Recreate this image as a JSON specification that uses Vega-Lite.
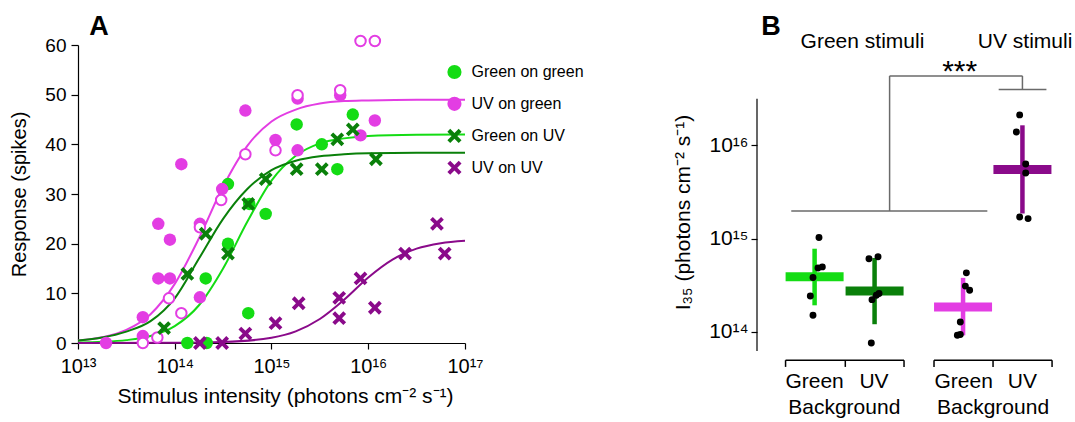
{
  "$schema": "https://vega.github.io/schema/vega-lite/v6.json",
  "background": "white",
  "padding": {"left": 9, "top": 12, "right": 0, "bottom": 0},
  "bounds": "flush",
  "spacing": 292,
  "config": {
    "font": "Liberation Sans",
    "view": {"stroke": null},
    "axis": {"domainColor": "#000", "tickColor": "#000", "labelColor": "#000", "titleColor": "#000", "titleFontWeight": "normal", "grid": false, "labelFont": "Liberation Sans", "titleFont": "Liberation Sans", "tickSize": 6, "domainWidth": 1.2, "tickWidth": 1.2},
    "text": {"font": "Liberation Sans"}
  },
  "datasets": {
    "curves": [
      {"series": "UV on green", "I": 1e13, "R": 0.49}, {"series": "UV on green", "I": 1.78e13, "R": 1.15}, {"series": "UV on green", "I": 3.16e13, "R": 2.63}, {"series": "UV on green", "I": 5.62e13, "R": 5.8}, {"series": "UV on green", "I": 1e14, "R": 11.9}, {"series": "UV on green", "I": 1.78e14, "R": 21.1}, {"series": "UV on green", "I": 3.16e14, "R": 31.5}, {"series": "UV on green", "I": 5.62e14, "R": 39.7}, {"series": "UV on green", "I": 1e15, "R": 44.6}, {"series": "UV on green", "I": 1.78e15, "R": 47.0}, {"series": "UV on green", "I": 3.16e15, "R": 48.2}, {"series": "UV on green", "I": 5.62e15, "R": 48.7}, {"series": "UV on green", "I": 1e16, "R": 48.85}, {"series": "UV on green", "I": 3.16e16, "R": 49.0}, {"series": "UV on green", "I": 1e17, "R": 49.0},
      {"series": "Green on green", "I": 1e13, "R": 0.09}, {"series": "Green on green", "I": 1.78e13, "R": 0.23}, {"series": "Green on green", "I": 3.16e13, "R": 0.58}, {"series": "Green on green", "I": 5.62e13, "R": 1.42}, {"series": "Green on green", "I": 1e14, "R": 3.4}, {"series": "Green on green", "I": 1.78e14, "R": 7.6}, {"series": "Green on green", "I": 3.16e14, "R": 15.0}, {"series": "Green on green", "I": 5.62e14, "R": 24.4}, {"series": "Green on green", "I": 1e15, "R": 32.7}, {"series": "Green on green", "I": 1.78e15, "R": 37.7}, {"series": "Green on green", "I": 3.16e15, "R": 40.2}, {"series": "Green on green", "I": 5.62e15, "R": 41.2}, {"series": "Green on green", "I": 1e16, "R": 41.7}, {"series": "Green on green", "I": 3.16e16, "R": 41.95}, {"series": "Green on green", "I": 1e17, "R": 42.0},
      {"series": "Green on UV", "I": 1e13, "R": 0.5}, {"series": "Green on UV", "I": 1.78e13, "R": 1.1}, {"series": "Green on UV", "I": 3.16e13, "R": 2.3}, {"series": "Green on UV", "I": 5.62e13, "R": 4.4}, {"series": "Green on UV", "I": 1e14, "R": 9.0}, {"series": "Green on UV", "I": 1.78e14, "R": 17.0}, {"series": "Green on UV", "I": 3.16e14, "R": 25.0}, {"series": "Green on UV", "I": 5.62e14, "R": 31.0}, {"series": "Green on UV", "I": 1e15, "R": 34.8}, {"series": "Green on UV", "I": 1.78e15, "R": 36.7}, {"series": "Green on UV", "I": 3.16e15, "R": 37.6}, {"series": "Green on UV", "I": 5.62e15, "R": 38.0}, {"series": "Green on UV", "I": 1e16, "R": 38.2}, {"series": "Green on UV", "I": 3.16e16, "R": 38.3}, {"series": "Green on UV", "I": 1e17, "R": 38.3},
      {"series": "UV on UV", "I": 1e13, "R": 0}, {"series": "UV on UV", "I": 1e14, "R": 0.04}, {"series": "UV on UV", "I": 3.16e14, "R": 0.2}, {"series": "UV on UV", "I": 1e15, "R": 1.06}, {"series": "UV on UV", "I": 1.78e15, "R": 2.35}, {"series": "UV on UV", "I": 3.16e15, "R": 4.83}, {"series": "UV on UV", "I": 5.62e15, "R": 8.7}, {"series": "UV on UV", "I": 1e16, "R": 13.2}, {"series": "UV on UV", "I": 1.78e16, "R": 16.8}, {"series": "UV on UV", "I": 3.16e16, "R": 19.0}, {"series": "UV on UV", "I": 5.62e16, "R": 20.1}, {"series": "UV on UV", "I": 1e17, "R": 20.6}
    ],
    "circles": [
      {"series": "Green on green", "I": 1.35e14, "R": 0}, {"series": "Green on green", "I": 2.14e14, "R": 0}, {"series": "Green on green", "I": 2.09e14, "R": 13}, {"series": "Green on green", "I": 3.55e14, "R": 20}, {"series": "Green on green", "I": 3.55e14, "R": 32}, {"series": "Green on green", "I": 5.89e14, "R": 28}, {"series": "Green on green", "I": 5.75e14, "R": 6}, {"series": "Green on green", "I": 8.71e14, "R": 26}, {"series": "Green on green", "I": 1.82e15, "R": 44}, {"series": "Green on green", "I": 3.31e15, "R": 40}, {"series": "Green on green", "I": 4.79e15, "R": 35}, {"series": "Green on green", "I": 6.92e15, "R": 46},
      {"series": "UV on green", "I": 1.95e13, "R": 0}, {"series": "UV on green", "I": 4.68e13, "R": 5.2}, {"series": "UV on green", "I": 4.68e13, "R": 1.4}, {"series": "UV on green", "I": 6.76e13, "R": 24}, {"series": "UV on green", "I": 8.91e13, "R": 20.8}, {"series": "UV on green", "I": 6.76e13, "R": 13}, {"series": "UV on green", "I": 8.91e13, "R": 13}, {"series": "UV on green", "I": 1.82e14, "R": 9.2}, {"series": "UV on green", "I": 1.82e14, "R": 24}, {"series": "UV on green", "I": 1.17e14, "R": 36}, {"series": "UV on green", "I": 3.09e14, "R": 31}, {"series": "UV on green", "I": 5.37e14, "R": 46.8}, {"series": "UV on green", "I": 1.1e15, "R": 40.9}, {"series": "UV on green", "I": 1.86e15, "R": 38.8}, {"series": "UV on green", "I": 1.86e15, "R": 49.2}, {"series": "UV on green", "I": 5.13e15, "R": 49.9}, {"series": "UV on green", "I": 8.32e15, "R": 41.8}, {"series": "UV on green", "I": 1.17e16, "R": 44.8}
    ],
    "open": [
      {"I": 4.68e13, "R": 0}, {"I": 6.61e13, "R": 1.1}, {"I": 8.71e13, "R": 9}, {"I": 1.17e14, "R": 6}, {"I": 1.82e14, "R": 23.3}, {"I": 3.02e14, "R": 28.8}, {"I": 5.37e14, "R": 38}, {"I": 1.1e15, "R": 38.8}, {"I": 1.86e15, "R": 49.9}, {"I": 5.13e15, "R": 50.9}, {"I": 8.32e15, "R": 60.8}, {"I": 1.17e16, "R": 60.8}
    ],
    "crosses": [
      {"series": "Green on UV", "I": 7.76e13, "R": 3}, {"series": "Green on UV", "I": 1.35e14, "R": 13.9}, {"series": "Green on UV", "I": 2.09e14, "R": 22}, {"series": "Green on UV", "I": 3.55e14, "R": 18}, {"series": "Green on UV", "I": 5.75e14, "R": 28}, {"series": "Green on UV", "I": 8.71e14, "R": 33}, {"series": "Green on UV", "I": 1.82e15, "R": 35}, {"series": "Green on UV", "I": 3.31e15, "R": 35}, {"series": "Green on UV", "I": 4.79e15, "R": 41}, {"series": "Green on UV", "I": 6.92e15, "R": 43}, {"series": "Green on UV", "I": 1.2e16, "R": 37},
      {"series": "UV on UV", "I": 1.82e14, "R": 0}, {"series": "UV on UV", "I": 3.09e14, "R": 0}, {"series": "UV on UV", "I": 5.37e14, "R": 1.9}, {"series": "UV on UV", "I": 1.1e15, "R": 4}, {"series": "UV on UV", "I": 1.91e15, "R": 8}, {"series": "UV on UV", "I": 5.01e15, "R": 9.1}, {"series": "UV on UV", "I": 5.01e15, "R": 5}, {"series": "UV on UV", "I": 8.32e15, "R": 13}, {"series": "UV on UV", "I": 1.17e16, "R": 7.1}, {"series": "UV on UV", "I": 2.4e16, "R": 18}, {"series": "UV on UV", "I": 5.13e16, "R": 24}, {"series": "UV on UV", "I": 6.17e16, "R": 18}
    ],
    "legendRows": [
      {"series": "Green on green", "I": 7.78e16, "R": 54.56, "lx": 1.167e17},
      {"series": "UV on green", "I": 7.78e16, "R": 48.15, "lx": 1.167e17},
      {"series": "Green on UV", "I": 7.78e16, "R": 41.69, "lx": 1.167e17},
      {"series": "UV on UV", "I": 7.78e16, "R": 35.28, "lx": 1.167e17}
    ],
    "panelA": [{"t": "A", "I": 1.31e13, "R": 62.1}],
    "summary": [
      {"series": "Green on green", "pos": 1.0, "mean": 3.9e14, "lo": 1.93e14, "hi": 7.8e14},
      {"series": "Green on UV", "pos": 2.01, "mean": 2.75e14, "lo": 1.21e14, "hi": 6.2e14},
      {"series": "UV on green", "pos": 3.5, "mean": 1.85e14, "lo": 9.2e13, "hi": 3.8e14},
      {"series": "UV on UV", "pos": 4.5, "mean": 5.5e15, "lo": 1.86e15, "hi": 1.64e16}
    ],
    "cells": [
      {"pos": 1.074, "v": 1.03e15}, {"pos": 1.057, "v": 4.85e14}, {"pos": 1.13, "v": 4.98e14}, {"pos": 0.973, "v": 3.83e14}, {"pos": 0.928, "v": 2.43e14}, {"pos": 0.973, "v": 1.51e14},
      {"pos": 1.916, "v": 6.1e14}, {"pos": 2.068, "v": 6.4e14}, {"pos": 2.085, "v": 2.58e14}, {"pos": 2.04, "v": 2.47e14}, {"pos": 1.967, "v": 2.22e14}, {"pos": 1.955, "v": 7.6e13},
      {"pos": 3.556, "v": 4.3e14}, {"pos": 3.539, "v": 3.1e14}, {"pos": 3.611, "v": 2.8e14}, {"pos": 3.454, "v": 1.28e14}, {"pos": 3.404, "v": 9.2e13}, {"pos": 3.454, "v": 9.4e13},
      {"pos": 4.453, "v": 2.12e16}, {"pos": 4.398, "v": 1.39e16}, {"pos": 4.555, "v": 6.3e15}, {"pos": 4.555, "v": 5.06e15}, {"pos": 4.453, "v": 1.71e15}, {"pos": 4.595, "v": 1.64e15}
    ],
    "sig": [
      {"x1": 0.607, "x2": 3.909, "y1": 1.98e15, "y2": 1.98e15},
      {"x1": 2.263, "x2": 2.263, "y1": 1.98e15, "y2": 5.55e16},
      {"x1": 2.263, "x2": 4.5, "y1": 5.55e16, "y2": 5.55e16},
      {"x1": 4.5, "x2": 4.5, "y1": 5.55e16, "y2": 3.96e16},
      {"x1": 4.1, "x2": 4.904, "y1": 3.96e16, "y2": 3.96e16}
    ],
    "brackets": [
      {"x1": 0.511, "x2": 2.506, "y1": 4.98e13, "y2": 4.98e13},
      {"x1": 0.511, "x2": 0.511, "y1": 4.98e13, "y2": 4.22e13},
      {"x1": 1.517, "x2": 1.517, "y1": 4.98e13, "y2": 4.22e13},
      {"x1": 2.506, "x2": 2.506, "y1": 4.98e13, "y2": 4.22e13},
      {"x1": 3.011, "x2": 4.999, "y1": 4.98e13, "y2": 4.98e13},
      {"x1": 3.011, "x2": 3.011, "y1": 4.98e13, "y2": 4.22e13},
      {"x1": 4.005, "x2": 4.005, "y1": 4.98e13, "y2": 4.22e13},
      {"x1": 4.999, "x2": 4.999, "y1": 4.98e13, "y2": 4.22e13}
    ],
    "yline": [{"x1": 0.03, "y1": 6.25e13, "y2": 3.16e16}],
    "labels": [
      {"t": "Green", "x": 1.0, "y": 2.89e13}, {"t": "UV", "x": 2.0, "y": 2.89e13}, {"t": "Background", "x": 1.5, "y": 1.52e13},
      {"t": "Green", "x": 3.51, "y": 2.89e13}, {"t": "UV", "x": 4.5, "y": 2.89e13}, {"t": "Background", "x": 4.005, "y": 1.52e13},
      {"t": "Green stimuli", "x": 1.806, "y": 1.27e17}, {"t": "UV stimuli", "x": 4.544, "y": 1.27e17}
    ],
    "stars": [{"t": "***", "x": 3.443, "y": 7.05e16}],
    "panelB": [{"t": "B", "x": 0.102, "y": 1.513e17}]
  },
  "hconcat": [
    {
      "width": 387,
      "height": 298,
      "layer": [
        {
          "data": {"name": "curves"},
          "mark": {"type": "line", "strokeWidth": 2, "interpolate": "monotone"},
          "encoding": {
            "x": {"field": "I", "type": "quantitative", "scale": {"type": "log", "domain": [1e13, 1e17], "nice": false},
              "axis": {"values": [1e13, 1e14, 1e15, 1e16, 1e17], "labelExpr": "datum.value < 5e13 ? '10¹³' : datum.value < 5e14 ? '10¹⁴' : datum.value < 5e15 ? '10¹⁵' : datum.value < 5e16 ? '10¹⁶' : '10¹⁷'", "title": "Stimulus intensity (photons cm⁻² s⁻¹)", "labelFontSize": 20, "titleFontSize": 21, "labelPadding": 7, "titlePadding": 9, "labelFlush": false, "labelOverlap": false, "titleX": 207}},
            "y": {"field": "R", "type": "quantitative", "scale": {"domain": [0, 60], "nice": false},
              "axis": {"values": [0, 10, 20, 30, 40, 50, 60], "title": "Response (spikes)", "labelFontSize": 19, "titleFontSize": 20, "labelPadding": 5, "tickSize": 7, "titlePadding": 15}},
            "stroke": {"field": "series", "type": "nominal", "scale": {"domain": ["Green on green", "UV on green", "Green on UV", "UV on UV"], "range": ["#14dc14", "#e33de3", "#0a800a", "#8a0a8a"]}, "legend": null}
          }
        },
        {
          "data": {"name": "circles"},
          "mark": {"type": "point", "filled": true, "opacity": 1, "size": 155},
          "encoding": {
            "x": {"field": "I", "type": "quantitative"},
            "y": {"field": "R", "type": "quantitative"},
            "color": {"field": "series", "type": "nominal", "scale": {"domain": ["Green on green", "UV on green", "Green on UV", "UV on UV"], "range": ["#14dc14", "#e33de3", "#0a800a", "#8a0a8a"]}, "legend": null},
            "shape": {"field": "series", "type": "nominal", "scale": {"domain": ["Green on green", "UV on green", "Green on UV", "UV on UV"], "range": ["circle", "circle", "M-1,-0.6L-0.6,-1L0,-0.4L0.6,-1L1,-0.6L0.4,0L1,0.6L0.6,1L0,0.4L-0.6,1L-1,0.6L-0.4,0Z", "M-1,-0.6L-0.6,-1L0,-0.4L0.6,-1L1,-0.6L0.4,0L1,0.6L0.6,1L0,0.4L-0.6,1L-1,0.6L-0.4,0Z"]}, "legend": null}
          }
        },
        {
          "data": {"name": "open"},
          "mark": {"type": "point", "shape": "circle", "filled": false, "fill": "white", "fillOpacity": 1, "stroke": "#e33de3", "strokeWidth": 2, "opacity": 1, "size": 110},
          "encoding": {
            "x": {"field": "I", "type": "quantitative"},
            "y": {"field": "R", "type": "quantitative"}
          }
        },
        {
          "data": {"name": "crosses"},
          "mark": {"type": "point", "filled": true, "opacity": 1, "size": 190},
          "encoding": {
            "x": {"field": "I", "type": "quantitative"},
            "y": {"field": "R", "type": "quantitative"},
            "color": {"field": "series", "type": "nominal", "legend": null},
            "shape": {"field": "series", "type": "nominal", "legend": null}
          }
        },
        {
          "data": {"name": "legendRows"},
          "mark": {"type": "point", "filled": true, "opacity": 1, "size": 200},
          "encoding": {
            "x": {"field": "I", "type": "quantitative"},
            "y": {"field": "R", "type": "quantitative"},
            "color": {"field": "series", "type": "nominal", "legend": null},
            "shape": {"field": "series", "type": "nominal", "legend": null}
          }
        },
        {
          "data": {"name": "legendRows"},
          "mark": {"type": "text", "fontSize": 16, "align": "left", "baseline": "middle", "color": "#000"},
          "encoding": {
            "x": {"field": "lx", "type": "quantitative"},
            "y": {"field": "R", "type": "quantitative"},
            "text": {"field": "series"}
          }
        },
        {
          "data": {"name": "panelA"},
          "mark": {"type": "text", "fontSize": 27, "fontWeight": "bold", "align": "left", "baseline": "alphabetic", "color": "#000"},
          "encoding": {"x": {"field": "I", "type": "quantitative"}, "y": {"field": "R", "type": "quantitative"}, "text": {"field": "t"}}
        }
      ]
    },
    {
      "width": 307,
      "height": 306,
      "layer": [
        {
          "data": {"name": "sig"},
          "mark": {"type": "rule", "color": "#6a6a6a", "strokeWidth": 1.5},
          "encoding": {
            "x": {"field": "x1", "type": "quantitative", "scale": {"domain": [0.03, 5.2], "nice": false, "zero": false}, "axis": null},
            "x2": {"field": "x2"},
            "y": {"field": "y1", "type": "quantitative", "scale": {"type": "log", "domain": [6.25e13, 1.19e17], "nice": false},
              "axis": {"values": [1e14, 1e15, 1e16], "labelExpr": "datum.value < 5e14 ? '10¹⁴' : datum.value < 5e15 ? '10¹⁵' : '10¹⁶'", "domain": false, "labelFontSize": 21, "labelPadding": 3, "title": "I₃₅ (photons cm⁻² s⁻¹)", "titleFontSize": 21, "titlePadding": 15, "titleY": 167}},
            "y2": {"field": "y2"}
          }
        },
        {
          "data": {"name": "yline"},
          "mark": {"type": "rule", "color": "#000", "strokeWidth": 1.2},
          "encoding": {"x": {"field": "x1", "type": "quantitative"}, "y": {"field": "y1", "type": "quantitative"}, "y2": {"field": "y2"}}
        },
        {
          "data": {"name": "brackets"},
          "mark": {"type": "rule", "color": "#000", "strokeWidth": 1.5},
          "encoding": {"x": {"field": "x1", "type": "quantitative"}, "x2": {"field": "x2"}, "y": {"field": "y1", "type": "quantitative"}, "y2": {"field": "y2"}}
        },
        {
          "data": {"name": "summary"},
          "mark": {"type": "rule", "strokeWidth": 4.5},
          "encoding": {
            "x": {"field": "pos", "type": "quantitative"},
            "y": {"field": "lo", "type": "quantitative"},
            "y2": {"field": "hi"},
            "stroke": {"field": "series", "type": "nominal", "legend": null}
          }
        },
        {
          "data": {"name": "summary"},
          "mark": {"type": "tick", "orient": "horizontal", "size": 58, "thickness": 9, "opacity": 1},
          "encoding": {
            "x": {"field": "pos", "type": "quantitative"},
            "y": {"field": "mean", "type": "quantitative"},
            "fill": {"field": "series", "type": "nominal", "scale": {"domain": ["Green on green", "UV on green", "Green on UV", "UV on UV"], "range": ["#14dc14", "#e33de3", "#0a800a", "#8a0a8a"]}, "legend": null}
          }
        },
        {
          "data": {"name": "cells"},
          "mark": {"type": "point", "filled": true, "color": "#000", "opacity": 1, "size": 48, "shape": "circle"},
          "encoding": {"x": {"field": "pos", "type": "quantitative"}, "y": {"field": "v", "type": "quantitative"}}
        },
        {
          "data": {"name": "labels"},
          "mark": {"type": "text", "fontSize": 21, "baseline": "middle", "align": "center", "color": "#000"},
          "encoding": {"x": {"field": "x", "type": "quantitative"}, "y": {"field": "y", "type": "quantitative"}, "text": {"field": "t"}}
        },
        {
          "data": {"name": "stars"},
          "mark": {"type": "text", "fontSize": 30, "baseline": "middle", "align": "center", "color": "#000", "dy": 6},
          "encoding": {"x": {"field": "x", "type": "quantitative"}, "y": {"field": "y", "type": "quantitative"}, "text": {"field": "t"}}
        },
        {
          "data": {"name": "panelB"},
          "mark": {"type": "text", "fontSize": 27, "fontWeight": "bold", "align": "left", "baseline": "alphabetic", "color": "#000"},
          "encoding": {"x": {"field": "x", "type": "quantitative"}, "y": {"field": "y", "type": "quantitative"}, "text": {"field": "t"}}
        }
      ]
    }
  ]
}
